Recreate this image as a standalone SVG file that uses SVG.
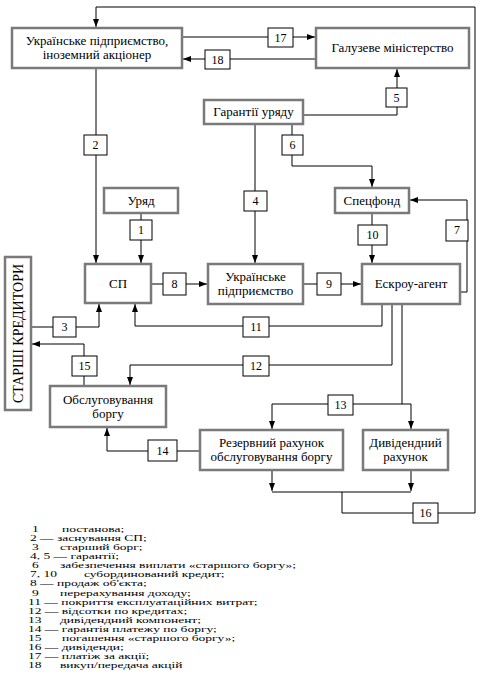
<svg xmlns="http://www.w3.org/2000/svg" width="483" height="675" viewBox="0 0 483 675">
<style>
.n{fill:#fff;stroke:#7a7a7a;stroke-width:2.5}
.b{fill:#fff;stroke:#000;stroke-width:1}
.c{fill:none;stroke:#000;stroke-width:1}
text{font-family:"Liberation Serif","Times New Roman",serif;fill:#000}
.t{font-size:13px;text-anchor:middle}
.k{font-size:12px;text-anchor:middle}
.l{font-size:13.5px}
</style>
<defs>
<marker id="a" viewBox="0 0 8 6" refX="8" refY="3" markerWidth="8" markerHeight="6" markerUnits="userSpaceOnUse" orient="auto">
<path d="M0,0 L8,3 L0,6 z" fill="#000"/>
</marker>
</defs>
<rect width="483" height="675" fill="#fff"/>
<g id="connectors">
<path class="c" d="M342,492 V513 H475 V7 H96 V27" marker-end="url(#a)"/>
<path class="c" d="M182,37 H315" marker-end="url(#a)"/>
<path class="c" d="M316,59 H183" marker-end="url(#a)"/>
<path class="c" d="M303,115 H397 V69" marker-end="url(#a)"/>
<path class="c" d="M96,68 V263" marker-end="url(#a)"/>
<path class="c" d="M255,124 V263" marker-end="url(#a)"/>
<path class="c" d="M292,124 V166 H372 V187" marker-end="url(#a)"/>
<path class="c" d="M141,213 V263" marker-end="url(#a)"/>
<path class="c" d="M372,213 V263" marker-end="url(#a)"/>
<path class="c" d="M460,292 H467 V200 H410" marker-end="url(#a)"/>
<path class="c" d="M151,284 H207" marker-end="url(#a)"/>
<path class="c" d="M303,284 H361" marker-end="url(#a)"/>
<path class="c" d="M31,327 H99 V304" marker-end="url(#a)"/>
<path class="c" d="M382,304 V326 H135 V304" marker-end="url(#a)"/>
<path class="c" d="M392,304 V365 H130 V385" marker-end="url(#a)"/>
<path class="c" d="M84,386 V344 H32" marker-end="url(#a)"/>
<path class="c" d="M402,304 V404"/>
<path class="c" d="M272,404 H411"/>
<path class="c" d="M272,404 V429" marker-end="url(#a)"/>
<path class="c" d="M411,404 V429" marker-end="url(#a)"/>
<path class="c" d="M200,451 H107 V428" marker-end="url(#a)"/>
<path class="c" d="M272,470 V491" marker-end="url(#a)"/>
<path class="c" d="M411,470 V491" marker-end="url(#a)"/>
<path class="c" d="M272,492 H411"/>
<g id="labels">
<rect class="b" x="268" y="28" width="25" height="19"/><text class="k" x="280.5" y="42">17</text>
<rect class="b" x="205" y="50" width="25" height="19"/><text class="k" x="217.5" y="64">18</text>
<rect class="b" x="386" y="88" width="21" height="19"/><text class="k" x="396.5" y="102">5</text>
<rect class="b" x="84" y="135" width="23" height="20"/><text class="k" x="95.5" y="149">2</text>
<rect class="b" x="282" y="135" width="21" height="20"/><text class="k" x="292.5" y="149">6</text>
<rect class="b" x="244" y="191" width="23" height="20"/><text class="k" x="255.5" y="205">4</text>
<rect class="b" x="130" y="220" width="22" height="20"/><text class="k" x="141" y="234">1</text>
<rect class="b" x="358" y="225" width="29" height="20"/><text class="k" x="372.5" y="239">10</text>
<rect class="b" x="446" y="220" width="22" height="21"/><text class="k" x="457" y="234">7</text>
<rect class="b" x="163" y="273" width="23" height="22"/><text class="k" x="174.5" y="288">8</text>
<rect class="b" x="317" y="273" width="24" height="22"/><text class="k" x="329" y="288">9</text>
<rect class="b" x="53" y="317" width="23" height="20"/><text class="k" x="64.5" y="331">3</text>
<rect class="b" x="243" y="317" width="26" height="20"/><text class="k" x="256" y="331">11</text>
<rect class="b" x="243" y="356" width="26" height="20"/><text class="k" x="256" y="370">12</text>
<rect class="b" x="72" y="356" width="25" height="20"/><text class="k" x="84.5" y="370">15</text>
<rect class="b" x="328" y="395" width="25" height="20"/><text class="k" x="340.5" y="409">13</text>
<rect class="b" x="148" y="440" width="29" height="21"/><text class="k" x="162.5" y="455">14</text>
<rect class="b" x="413" y="503" width="25" height="20"/><text class="k" x="425.5" y="517">16</text>
</g>
</g>
<g id="n1"><rect class="n" x="12" y="28" width="170" height="40"/><text class="t" x="97" y="45">Українське підприємство,</text><text class="t" x="97" y="59">іноземний акціонер</text></g>
<g id="n2"><rect class="n" x="316" y="28" width="153" height="40"/><text class="t" x="392.5" y="52">Галузеве міністерство</text></g>
<g id="n3"><rect class="n" x="204" y="100" width="99" height="24"/><text class="t" x="253.5" y="116">Гарантії уряду</text></g>
<g id="n4"><rect class="n" x="104" y="188" width="74" height="25"/><text class="t" x="141" y="205">Уряд</text></g>
<g id="n5"><rect class="n" x="335" y="188" width="74" height="25"/><text class="t" x="372" y="205">Спецфонд</text></g>
<g id="n6"><rect class="n" x="85" y="264" width="66" height="39"/><text class="t" x="118" y="288">СП</text></g>
<g id="n7"><rect class="n" x="208" y="264" width="95" height="40"/><text class="t" x="255.5" y="281">Українське</text><text class="t" x="255.5" y="295">підприємство</text></g>
<g id="n8"><rect class="n" x="362" y="264" width="98" height="40"/><text class="t" x="411" y="288">Ескроу-агент</text></g>
<g id="n9"><rect class="n" x="5" y="257" width="26" height="153"/><text class="t" style="font-size:14px" transform="translate(23,333.5) rotate(-90)">СТАРШІ КРЕДИТОРИ</text></g>
<g id="n10"><rect class="n" x="50" y="386" width="116" height="41"/><text class="t" x="108" y="404">Обслуговування</text><text class="t" x="108" y="418">боргу</text></g>
<g id="n11"><rect class="n" x="200" y="430" width="143" height="40"/><text class="t" x="271.5" y="447">Резервний рахунок</text><text class="t" x="271.5" y="461">обслуговування боргу</text></g>
<g id="n12"><rect class="n" x="363" y="430" width="85" height="40"/><text class="t" x="405.5" y="447">Дивідендний</text><text class="t" x="405.5" y="461">рахунок</text></g>
<g id="legend" class="l" transform="translate(0,532) scale(1,0.66)">
<text x="32" y="0">1<tspan x="62">постанова;</tspan></text>
<text x="30" y="13.75">2 — заснування СП;</text>
<text x="32" y="27.5">3<tspan x="60">старший борг;</tspan></text>
<text x="30" y="41.25">4, 5 — гарантії;</text>
<text x="32" y="55">6<tspan x="60">забезпечення виплати «старшого боргу»;</tspan></text>
<text x="30" y="68.75">7, 10<tspan x="84">субординований кредит;</tspan></text>
<text x="30" y="82.5">8 — продаж об'єкта;</text>
<text x="32" y="96.25">9<tspan x="60">перерахування доходу;</tspan></text>
<text x="28" y="110">11 — покриття експлуатаційних витрат;</text>
<text x="28" y="123.75">12 — відсотки по кредитах;</text>
<text x="28" y="137.5">13<tspan x="60">дивідендний компонент;</tspan></text>
<text x="28" y="151.25">14 — гарантія платежу по боргу;</text>
<text x="28" y="165">15<tspan x="62">погашення «старшого боргу»;</tspan></text>
<text x="28" y="178.75">16 — дивіденди;</text>
<text x="28" y="192.5">17 — платіж за акції;</text>
<text x="28" y="206.25">18<tspan x="60">викуп/передача акцій</tspan></text>
</g>
</svg>
